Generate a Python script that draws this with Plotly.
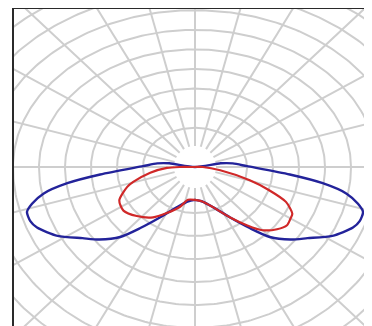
import numpy as np
import plotly.graph_objects as go

# ---- data (luminous intensity, cd/klm; gamma = angle from nadir, degrees) ----
gamma_blue = [0, 10, 22, 32, 39, 44, 50, 55, 61, 67, 70, 73.5, 76, 79, 82, 85, 91, 96, 99, 101]
I_blue     = [70, 74, 92, 126, 167, 207, 240, 264, 302, 330, 337, 337, 323, 297, 248, 183, 100, 73, 50, 0]

gamma_red_left = [0, 11, 19, 29, 37, 47, 56, 64, 72, 75, 82, 88, 90, 93]
I_red_left     = [70, 71, 90, 112, 134, 153, 166, 162, 137, 123, 87, 54, 29, 0]

gamma_red_right = [0, 10, 22, 32, 39, 44, 50, 55, 59, 62, 67, 71, 75, 82, 90, 92]
I_red_right     = [70, 74, 92, 126, 160, 187, 206, 216, 214, 212, 190, 150, 109, 49, 15, 0]

ring_count = 14
spoke_step = 15     # degrees between radial grid lines

# ---- page geometry (pixels) ----
px_x = 26 / 50      # pixels per cd/klm horizontally
px_y = 23.5 / 50    # pixels per cd/klm vertically
cx, cy = 187, 159
left, top, W, H = 6, 1, 372, 326

# grid appearance in pixels (drawing of the backdrop)
ring_dx, ring_dy_up, ring_dy_down = 26.0, 19.6, 23.0
spoke_r0, spoke_stretch = 21.0, 1.07


def to_xy(gam, inten, side):
    g = np.radians(np.asarray(gam, dtype=float))
    r = np.asarray(inten, dtype=float)
    return side * r * np.sin(g), -r * np.cos(g)


GRID = "rgb(206,206,206)"
fig = go.Figure()

# rings
t_up = np.linspace(0, np.pi, 181)
t_dn = np.linspace(np.pi, 2 * np.pi, 181)
for k in range(2, ring_count + 1):
    xs = np.concatenate([ring_dx * k * np.cos(t_up), ring_dx * k * np.cos(t_dn)]) / px_x
    ys = np.concatenate([ring_dy_up * k * np.sin(t_up), ring_dy_down * k * np.sin(t_dn)]) / px_y
    fig.add_trace(go.Scatter(x=xs, y=ys, mode="lines", line=dict(color=GRID, width=2),
                             hoverinfo="skip", showlegend=False))
# spokes
for a in range(0, 360, spoke_step):
    t = np.radians(a)
    ux, uy = spoke_stretch * np.sin(t), np.cos(t)
    n = np.hypot(ux, uy)
    ux, uy = ux / n, uy / n
    r0, r1 = spoke_r0, 400
    fig.add_trace(go.Scatter(x=[r0 * ux / px_x, r1 * ux / px_x], y=[r0 * uy / px_y, r1 * uy / px_y],
                             mode="lines", line=dict(color=GRID, width=2),
                             hoverinfo="skip", showlegend=False))

# blue curve
xl, yl = to_xy(gamma_blue[::-1], I_blue[::-1], -1)
xr, yr = to_xy(gamma_blue, I_blue, 1)
fig.add_trace(go.Scatter(x=np.concatenate([xl, xr]), y=np.concatenate([yl, yr]), mode="lines",
                         line=dict(color="#23239a", width=2.4, shape="spline", smoothing=0.7),
                         showlegend=False))

# red curve
xl, yl = to_xy(gamma_red_left[::-1], I_red_left[::-1], -1)
xr, yr = to_xy(gamma_red_right, I_red_right, 1)
fig.add_trace(go.Scatter(x=np.concatenate([xl, xr]), y=np.concatenate([yl, yr]), mode="lines",
                         line=dict(color="#d02828", width=2.2, shape="spline", smoothing=0.7),
                         showlegend=False))

fig.update_layout(
    width=W, height=H,
    margin=dict(l=left, r=0, t=top, b=0),
    paper_bgcolor="white", plot_bgcolor="white",
    xaxis=dict(range=[-(cx - left) / px_x, (W - cx) / px_x], showgrid=False, zeroline=False,
               showticklabels=False, ticks="", showline=True, linecolor="#2a2a2a", linewidth=2,
               side="top"),
    yaxis=dict(range=[-(H - cy) / px_y, (cy - top) / px_y], showgrid=False, zeroline=False,
               showticklabels=False, ticks="", showline=True, linecolor="#2a2a2a", linewidth=2),
)

fig.write_html("out.html")
